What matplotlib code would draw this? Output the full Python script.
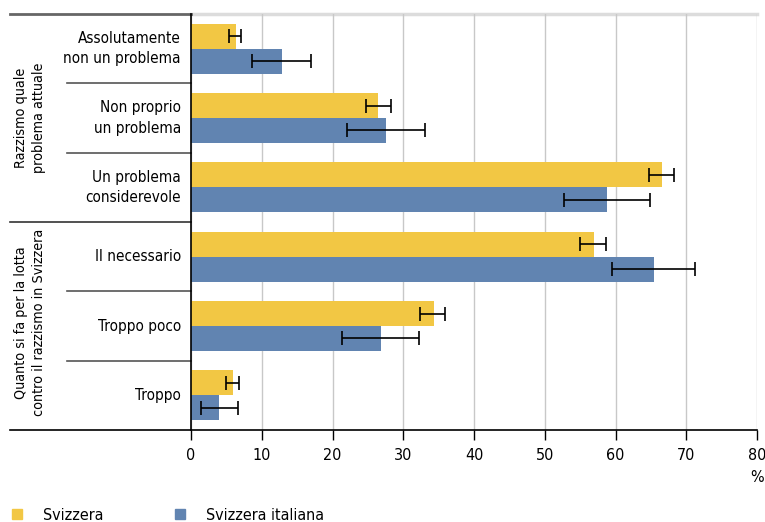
import matplotlib
matplotlib.use("Agg")
import matplotlib.pyplot as plt
from matplotlib import font_manager
from matplotlib.lines import Line2D
import numpy as np

# pick a narrow font if there is one
names = set(f.name for f in font_manager.fontManager.ttflist)
fam = "Liberation Sans Narrow" if "Liberation Sans Narrow" in names else "DejaVu Sans"
plt.rcParams["font.family"] = [fam, "DejaVu Sans"]
plt.rcParams["font.stretch"] = "condensed"

categories = ["Assolutamente\nnon un problema", "Non proprio\nun problema",
              "Un problema\nconsiderevole", "Il necessario", "Troppo poco", "Troppo"]
groups = ["Razzismo quale\nproblema attuale",
          "Quanto si fa per la lotta\ncontro il razzismo in Svizzera"]

ch = [6.3, 26.4, 66.6, 57.0, 34.3, 6.0]
ch_lo = [5.3, 24.7, 64.7, 55.0, 32.4, 5.0]
ch_hi = [7.1, 28.2, 68.3, 58.7, 35.9, 6.8]

ti = [12.8, 27.6, 58.8, 65.4, 26.9, 4.0]
ti_lo = [8.6, 22.1, 52.7, 59.5, 21.4, 1.4]
ti_hi = [16.9, 33.0, 64.9, 71.3, 32.2, 6.7]

yellow = "#F2C744"
blue = "#6184B1"
fs = 11.5

fig = plt.figure(figsize=(7.65, 5.22), dpi=100)
ax = fig.add_axes([0.2497, 0.1762, 0.7399, 0.797])

y = np.arange(len(categories))
h = 0.36
ax.barh(y - h / 2, ch, height=h, color=yellow, zorder=2)
ax.barh(y + h / 2, ti, height=h, color=blue, zorder=2)

ch_err = [np.array(ch) - np.array(ch_lo), np.array(ch_hi) - np.array(ch)]
ti_err = [np.array(ti) - np.array(ti_lo), np.array(ti_hi) - np.array(ti)]
ax.errorbar(ch, y - h / 2, xerr=ch_err, fmt="none", ecolor="black",
            elinewidth=1.2, capsize=5, capthick=1.2, zorder=3)
ax.errorbar(ti, y + h / 2, xerr=ti_err, fmt="none", ecolor="black",
            elinewidth=1.2, capsize=5, capthick=1.2, zorder=3)

ax.set_xlim(0, 80)
ax.set_ylim(5.5, -0.5)
ax.set_xticks(range(0, 81, 10))
ax.tick_params(axis="x", direction="out", length=7, width=1, labelsize=fs, pad=6)
ax.set_yticks([])
ax.grid(axis="x", color="#c8c8c8", linewidth=1, zorder=0)
for s in ["top", "right"]:
    ax.spines[s].set_visible(False)
ax.spines["left"].set_linewidth(1.2)
ax.spines["bottom"].set_linewidth(1.2)

# top light line across the plot
ax.plot([0, 1], [-0.5, -0.5], transform=ax.get_yaxis_transform(),
        color="#dcdcdc", lw=2.5, clip_on=False, zorder=1)

# separator lines in the label area
tr = ax.get_yaxis_transform()
for yy in [0.5, 1.5, 3.5, 4.5]:
    ax.plot([-0.219, 0], [yy, yy], transform=tr, color="#555555", lw=1.2, clip_on=False)
ax.plot([-0.32, 0], [2.5, 2.5], transform=tr, color="#333333", lw=1.2, clip_on=False)
ax.plot([-0.32, 0], [-0.5, -0.5], transform=tr, color="#666666", lw=2, clip_on=False)
ax.plot([-0.32, 0], [5.5, 5.5], transform=tr, color="black", lw=1.2, clip_on=False)

for i, c in enumerate(categories):
    ax.text(-0.018, i, c, transform=tr, ha="right", va="center",
            fontsize=11, linespacing=1.45)

for g, yc in zip(groups, [1, 3.95]):
    ax.text(-0.285, yc, g, transform=tr, ha="center", va="center",
            rotation=90, fontsize=10.3, linespacing=1.35)

ax.text(1.0, -0.095, "%", transform=ax.transAxes, ha="center", va="top", fontsize=fs)

# legend: one entry each, placed separately
labels = ["Svizzera", "Svizzera italiana"]
colors = [yellow, blue]
xpos = [0.0124, 0.2255]
for lab, col, xp in zip(labels, colors, xpos):
    hnd = Line2D([], [], marker="s", ls="none", color=col, markersize=7)
    fig.legend([hnd], [lab], loc="center left", bbox_to_anchor=(xp, 0.0134),
               frameon=False, fontsize=fs, handlelength=1, handletextpad=1.1,
               borderpad=0, borderaxespad=0)

plt.savefig("out.png", dpi=100)
